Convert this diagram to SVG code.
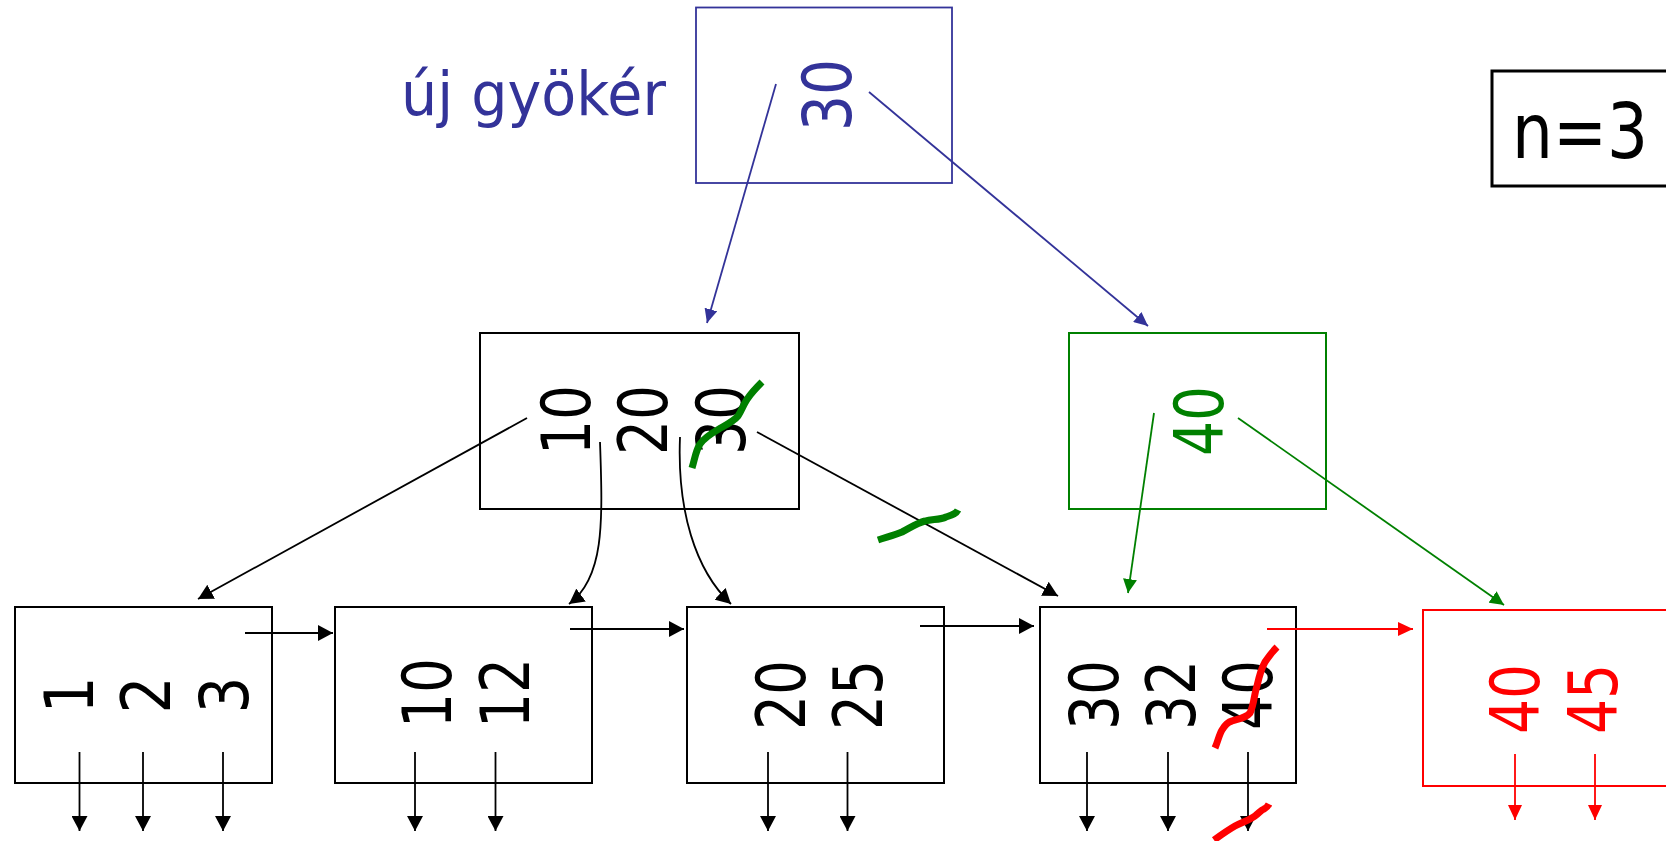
<svg xmlns="http://www.w3.org/2000/svg" width="1666" height="841" viewBox="0 0 1666 841">
<style>
  .box { fill: none; }
  .k { stroke: #000; }
  .b { stroke: #333399; }
  .g { stroke: #008000; }
  .r { stroke: #FF0000; }
  .num { font-family: "DejaVu Sans", "Liberation Sans", sans-serif; font-size: 67px; text-anchor: middle; }
  .lbl { font-family: "DejaVu Sans", "Liberation Sans", sans-serif; }
  .ln { fill: none; stroke-width: 1.8; }
  .strike { fill: none; stroke-width: 7; stroke-linecap: butt; stroke-linejoin: round; }
</style>
<defs>
  <marker id="ak" markerUnits="userSpaceOnUse" markerWidth="16" markerHeight="16" refX="15" refY="8" orient="auto" viewBox="0 0 16 16">
    <path d="M0,0 L15,8 L0,16 z" fill="#000"/>
  </marker>
  <marker id="ab" markerUnits="userSpaceOnUse" markerWidth="15" markerHeight="13" refX="14" refY="6.5" orient="auto" viewBox="0 0 15 13">
    <path d="M0,0 L14,6.5 L0,13 z" fill="#333399"/>
  </marker>
  <marker id="ag" markerUnits="userSpaceOnUse" markerWidth="15" markerHeight="14" refX="14" refY="7" orient="auto" viewBox="0 0 15 14">
    <path d="M0,0 L14,7 L0,14 z" fill="#008000"/>
  </marker>
  <marker id="ar" markerUnits="userSpaceOnUse" markerWidth="16" markerHeight="14" refX="15" refY="7" orient="auto" viewBox="0 0 16 14">
    <path d="M0,0 L15,7 L0,14 z" fill="#FF0000"/>
  </marker>
</defs>
<rect width="1666" height="841" fill="#fff"/>

<g id="label-uj-gyoker">
  <text class="lbl" x="401" y="115" font-size="61" fill="#333399" textLength="265" lengthAdjust="spacingAndGlyphs">új gyökér</text>
</g>

<g id="label-n">
  <rect x="1492" y="71" width="190" height="115" fill="none" stroke="#000" stroke-width="3"/>
  <text class="lbl" x="1512" y="158" font-size="77" fill="#000" textLength="136" lengthAdjust="spacingAndGlyphs">n=3</text>
</g>

<g id="root">
  <rect class="box b" x="696" y="7.5" width="256" height="175.5" stroke-width="1.8"/>
  <text class="num" fill="#333399" font-size="70" textLength="72" lengthAdjust="spacingAndGlyphs" transform="translate(851,95) rotate(-90)">30</text>
</g>

<g id="inner-left">
  <rect class="box k" x="480" y="333" width="319" height="176" stroke-width="2"/>
  <text class="num" fill="#000" textLength="70" lengthAdjust="spacingAndGlyphs" transform="translate(590,420) rotate(-90)">10</text>
  <text class="num" fill="#000" textLength="70" lengthAdjust="spacingAndGlyphs" transform="translate(667,420) rotate(-90)">20</text>
  <text class="num" fill="#000" textLength="70" lengthAdjust="spacingAndGlyphs" transform="translate(745,420) rotate(-90)">30</text>
</g>

<g id="inner-right">
  <rect class="box g" x="1069" y="333" width="257" height="176" stroke-width="2"/>
  <text class="num" fill="#008000" textLength="70" lengthAdjust="spacingAndGlyphs" transform="translate(1223,421) rotate(-90)">40</text>
</g>

<g id="leaf-1">
  <rect class="box k" x="15" y="607" width="257" height="176" stroke-width="2"/>
  <text class="num" fill="#000" textLength="37" lengthAdjust="spacingAndGlyphs" transform="translate(93,695) rotate(-90)">1</text>
  <text class="num" fill="#000" textLength="37" lengthAdjust="spacingAndGlyphs" transform="translate(170,695) rotate(-90)">2</text>
  <text class="num" fill="#000" textLength="37" lengthAdjust="spacingAndGlyphs" transform="translate(248,695) rotate(-90)">3</text>
</g>

<g id="leaf-2">
  <rect class="box k" x="335" y="607" width="257" height="176" stroke-width="2"/>
  <text class="num" fill="#000" textLength="70" lengthAdjust="spacingAndGlyphs" transform="translate(451,693) rotate(-90)">10</text>
  <text class="num" fill="#000" textLength="70" lengthAdjust="spacingAndGlyphs" transform="translate(529,693) rotate(-90)">12</text>
</g>

<g id="leaf-3">
  <rect class="box k" x="687" y="607" width="257" height="176" stroke-width="2"/>
  <text class="num" fill="#000" textLength="70" lengthAdjust="spacingAndGlyphs" transform="translate(805,695) rotate(-90)">20</text>
  <text class="num" fill="#000" textLength="70" lengthAdjust="spacingAndGlyphs" transform="translate(882,695) rotate(-90)">25</text>
</g>

<g id="leaf-4">
  <rect class="box k" x="1040" y="607" width="256" height="176" stroke-width="2"/>
  <text class="num" fill="#000" textLength="70" lengthAdjust="spacingAndGlyphs" transform="translate(1118,695) rotate(-90)">30</text>
  <text class="num" fill="#000" textLength="70" lengthAdjust="spacingAndGlyphs" transform="translate(1195,695) rotate(-90)">32</text>
  <text class="num" fill="#000" textLength="70" lengthAdjust="spacingAndGlyphs" transform="translate(1272,695) rotate(-90)">40</text>
</g>

<g id="leaf-5">
  <rect class="box r" x="1423" y="610" width="260" height="176" stroke-width="2"/>
  <text class="num" fill="#FF0000" textLength="70" lengthAdjust="spacingAndGlyphs" transform="translate(1539,699) rotate(-90)">40</text>
  <text class="num" fill="#FF0000" textLength="70" lengthAdjust="spacingAndGlyphs" transform="translate(1617,699) rotate(-90)">45</text>
</g>

<g id="connectors">
  <line class="ln b" stroke-width="1.6" x1="776" y1="84" x2="707" y2="323" marker-end="url(#ab)"/>
  <line class="ln b" stroke-width="1.6" x1="869" y1="92" x2="1148" y2="326" marker-end="url(#ab)"/>
  <line class="ln k" x1="527" y1="418" x2="198" y2="599" marker-end="url(#ak)"/>
  <path class="ln k" d="M600,442 C603,525 604,578 569,604" marker-end="url(#ak)"/>
  <path class="ln k" d="M680,437 C677,510 695,570 731,604" marker-end="url(#ak)"/>
  <line class="ln k" x1="757" y1="432" x2="1058" y2="596" marker-end="url(#ak)"/>
  <line class="ln g" stroke-width="1.6" x1="1154" y1="413" x2="1128" y2="593" marker-end="url(#ag)"/>
  <line class="ln g" stroke-width="1.6" x1="1238" y1="418" x2="1504" y2="605" marker-end="url(#ag)"/>
  <line class="ln k" x1="245" y1="633" x2="333" y2="633" marker-end="url(#ak)"/>
  <line class="ln k" x1="570" y1="629" x2="684" y2="629" marker-end="url(#ak)"/>
  <line class="ln k" x1="920" y1="626" x2="1034" y2="626" marker-end="url(#ak)"/>
  <line class="ln r" x1="1267" y1="629" x2="1413" y2="629" marker-end="url(#ar)"/>
  <line class="ln k" x1="79.5" y1="752" x2="79.5" y2="831" marker-end="url(#ak)"/>
  <line class="ln k" x1="143" y1="752" x2="143" y2="831" marker-end="url(#ak)"/>
  <line class="ln k" x1="223" y1="752" x2="223" y2="831" marker-end="url(#ak)"/>
  <line class="ln k" x1="415" y1="752" x2="415" y2="831" marker-end="url(#ak)"/>
  <line class="ln k" x1="495.5" y1="752" x2="495.5" y2="831" marker-end="url(#ak)"/>
  <line class="ln k" x1="768" y1="752" x2="768" y2="831" marker-end="url(#ak)"/>
  <line class="ln k" x1="847.5" y1="752" x2="847.5" y2="831" marker-end="url(#ak)"/>
  <line class="ln k" x1="1087" y1="752" x2="1087" y2="831" marker-end="url(#ak)"/>
  <line class="ln k" x1="1168" y1="752" x2="1168" y2="831" marker-end="url(#ak)"/>
  <line class="ln k" x1="1248" y1="752" x2="1248" y2="831" marker-end="url(#ak)"/>
  <line class="ln r" x1="1515" y1="754" x2="1515" y2="820" marker-end="url(#ar)"/>
  <line class="ln r" x1="1595" y1="754" x2="1595" y2="820" marker-end="url(#ar)"/>
</g>

<g id="strikes">
  <path class="strike g" d="M692,468 C695,458 696,450 700,444 C705,437 712,433 719,429 C728,424 734,421 738,416 C742,410 744,403 748,398 C752,392 757,387 762,382"/>
  <path class="strike g" d="M878,540 C887,537 895,535 902,532 C910,528 917,523 925,521 C932,519 940,520 946,517 C952,515 956,514 958,510"/>
  <path class="strike r" d="M1215,748 C1218,741 1219,735 1222,730 C1225,725 1228,722 1232,721 C1238,719 1246,718 1250,713 C1254,705 1254,695 1257,686 C1259,677 1261,669 1265,662 C1269,656 1272,652 1277,647"/>
  <path class="strike r" d="M1214,840 C1221,835 1228,830 1235,826 C1242,822 1250,820 1255,816 C1259,813 1261,810 1264,809 C1266,808 1268,806 1269,804"/>
</g>
</svg>
